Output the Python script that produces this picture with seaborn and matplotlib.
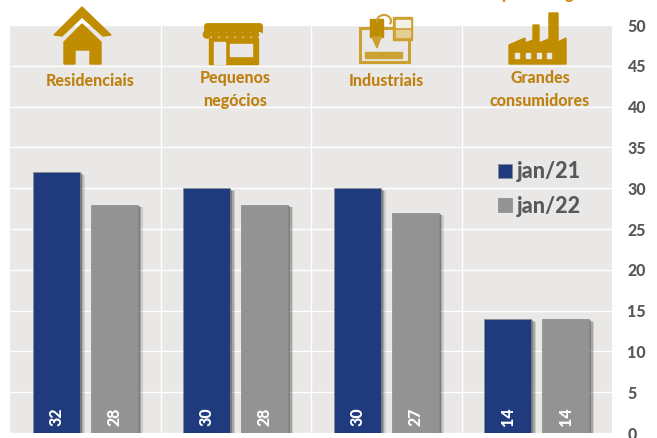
import matplotlib
matplotlib.use('Agg')
import matplotlib.pyplot as plt
import matplotlib.patheffects as pe
from matplotlib.patches import Polygon, Rectangle, FancyBboxPatch, Arc, Circle
import pandas as pd
import seaborn as sns

segments = ['Residenciais', 'Pequenos', 'Industriais', 'Grandes']
jan21 = [32, 30, 30, 14]
jan22 = [28, 28, 27, 14]
periods = ['jan/21', 'jan/22']
yticks = [0, 5, 10, 15, 20, 25, 30, 35, 40, 45, 50]

BG = '#E9E8E7'
NAVY = '#1F3A7D'
GREY = '#939393'
GOLD = '#C08C00'
TXT_GOLD = '#BF8211'
TICK = '#595959'
W, H = 657, 438
BOLD = 'black'

df = pd.DataFrame({
    'segment': segments * 2,
    'period': [periods[0]] * 4 + [periods[1]] * 4,
    'value': jan21 + jan22,
})

sns.set_theme(style='darkgrid', rc={'axes.facecolor': BG, 'grid.color': 'white', 'grid.linewidth': 1.0})
plt.rcParams['font.family'] = ['Lato', 'DejaVu Sans']

fig = plt.figure(figsize=(W / 100, H / 100), dpi=100, facecolor='white')
ax = fig.add_axes([10 / W, 1 - 433 / H, 602 / W, 408 / H])

sns.barplot(data=df, x='segment', y='value', hue='period', order=segments, hue_order=periods,
            palette=[NAVY, GREY], width=0.77, gap=0.19, ax=ax, edgecolor='#8a8a8a', linewidth=0.5, saturation=1)

shadows = [pe.SimplePatchShadow(offset=(3.5, -2), shadow_rgbFace='black', alpha=0.12),
           pe.SimplePatchShadow(offset=(2.5, -1.5), shadow_rgbFace='black', alpha=0.18),
           pe.SimplePatchShadow(offset=(1.5, -1), shadow_rgbFace='black', alpha=0.25)]
for cont, vals in zip(ax.containers, [jan21, jan22]):
    for bar, v in zip(cont, vals):
        bar.set_path_effects(shadows + [pe.Normal()])
        ax.text(bar.get_x() + bar.get_width() / 2, 2, str(v), rotation=90, ha='center', va='center',
                color='white', fontweight=BOLD, fontsize=11.5)

ax.set_xlim(-0.5, 3.5)
ax.set_ylim(0, 50)
ax.set_yticks(yticks)
ax.set_xticks([0.5, 1.5, 2.5], minor=True)
ax.grid(True, which='minor', axis='x', color='white', linewidth=1.0)
ax.grid(False, which='major', axis='x')
ax.grid(True, which='major', axis='y')
ax.set_xticklabels([])
ax.set_xlabel('')
ax.set_ylabel('')
ax.yaxis.tick_right()
ax.tick_params(axis='y', length=0, pad=11, labelsize=11.5, labelcolor=TICK)
ax.tick_params(axis='x', which='both', length=0)
for lab in ax.get_yticklabels():
    lab.set_fontweight(BOLD)
for s in ax.spines.values():
    s.set_visible(False)

handles, labels = ax.get_legend_handles_labels()
leg = ax.legend(handles, labels, loc='upper left', bbox_to_anchor=(479 / W, 1 - 142 / H),
                bbox_transform=fig.transFigure, frameon=False, fontsize=15.5,
                handlelength=0.65, handleheight=0.65, handletextpad=0.22, labelspacing=0.62)
for t in leg.get_texts():
    t.set_color(TICK)
    t.set_fontweight(BOLD)

# pixel overlay for the icons and the header texts
ov = fig.add_axes([0, 0, 1, 1], facecolor='none')
ov.set_xlim(0, W)
ov.set_ylim(H, 0)
ov.axis('off')

for x, y, s in [(90, 81, 'Residenciais'), (235, 78, 'Pequenos'), (235, 101, 'negócios'),
                (386, 81, 'Industriais'), (540, 78, 'Grandes'), (540, 101, 'consumidores')]:
    ov.text(x, y, s, ha='center', va='center', color=TXT_GOLD, fontweight=BOLD, fontsize=11.5)
# title is cut by the top edge in the reference, only descenders are visible
ov.text(596, -1.2, 'porcentagem', ha='right', va='baseline', color='#D08A10', fontweight=BOLD, fontsize=11.5, clip_on=True)

# house
ov.add_patch(Polygon([(82, 7), (54, 35), (62, 36), (82, 17), (103, 36), (111, 35)], color=GOLD))
ov.add_patch(Polygon([(82, 24), (64, 42), (64, 64), (75, 64), (75, 50), (90, 50), (90, 64), (101, 64), (101, 42)], color=GOLD))

# shop
ov.add_patch(FancyBboxPatch((206, 25), 55, 9, boxstyle='round,pad=1.2,rounding_size=2.5', color=GOLD))
for sx in range(207, 262, 8):
    ov.add_patch(Circle((sx + 4, 36.5), 3.9, color=BG))
    ov.add_patch(Circle((sx, 34.5), 3.6, color=GOLD))
ov.add_patch(Rectangle((209, 38), 49, 26, color=GOLD))
ov.add_patch(Rectangle((214, 42), 11, 22, color=BG))
ov.add_patch(Rectangle((230, 44), 22, 12, color=BG))

# machine
MACH = '#CDA032'
ov.add_patch(Rectangle((359.5, 28), 49, 34, fill=False, edgecolor=MACH, linewidth=2.2))
ov.add_patch(Rectangle((370, 19), 13, 18, color=GOLD))
ov.add_patch(Polygon([(372, 37), (381, 37), (377, 48)], color=MACH))
ov.add_patch(Rectangle((365, 52), 37, 6, color=MACH))
ov.add_patch(Rectangle((393, 17), 19, 23, color=MACH))
ov.add_patch(Rectangle((396, 20), 14, 7, color='#F3F0E6'))
ov.add_patch(Rectangle((396, 30), 14, 7, color='#E3CE94'))
ov.add_patch(Arc((384, 21), 14, 12, theta1=170, theta2=30, color=MACH, linewidth=1.5))

# factory
ov.add_patch(Polygon([(509, 45), (525, 38), (525, 43), (533, 40), (533, 25), (539, 25), (539, 43), (549, 39),
                      (549, 13), (558, 13), (558, 42), (566, 38), (566, 64), (509, 64)], color=GOLD))
for wx in [515, 526, 537, 547]:
    ov.add_patch(Rectangle((wx, 53), 4, 5, color=BG))

fig.savefig('out.png', dpi=100)
